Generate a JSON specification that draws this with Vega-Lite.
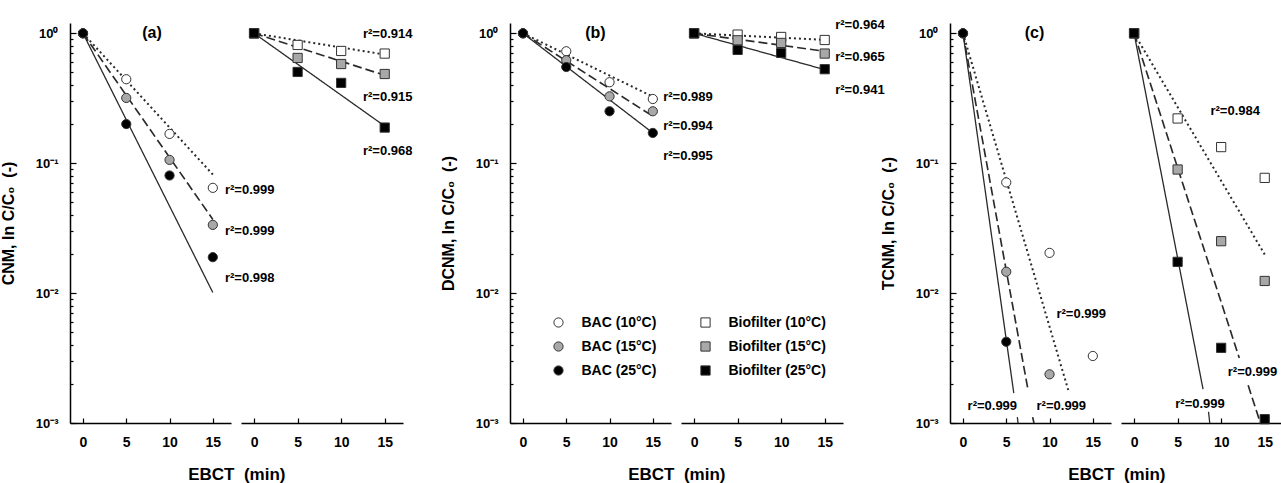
{
"$schema": "https://vega.github.io/schema/vega-lite/v6.json",
"padding": {"left": 0, "top": 19, "right": 0, "bottom": 0},
"spacing": 10,
"bounds": "flush",
"datasets": {
"pts": [
{"p":"a","m":"BAC","s":"BAC (10°C)","t":0,"c":1},{"p":"a","m":"BAC","s":"BAC (10°C)","t":5,"c":0.443},{"p":"a","m":"BAC","s":"BAC (10°C)","t":10,"c":0.168},{"p":"a","m":"BAC","s":"BAC (10°C)","t":15,"c":0.0646},
{"p":"a","m":"BAC","s":"BAC (15°C)","t":0,"c":1},{"p":"a","m":"BAC","s":"BAC (15°C)","t":5,"c":0.318},{"p":"a","m":"BAC","s":"BAC (15°C)","t":10,"c":0.106},{"p":"a","m":"BAC","s":"BAC (15°C)","t":15,"c":0.0335},
{"p":"a","m":"BAC","s":"BAC (25°C)","t":0,"c":1},{"p":"a","m":"BAC","s":"BAC (25°C)","t":5,"c":0.2},{"p":"a","m":"BAC","s":"BAC (25°C)","t":10,"c":0.0804},{"p":"a","m":"BAC","s":"BAC (25°C)","t":15,"c":0.0189},
{"p":"a","m":"Bio","s":"Biofilter (10°C)","t":0,"c":1},{"p":"a","m":"Bio","s":"Biofilter (10°C)","t":5,"c":0.813},{"p":"a","m":"Bio","s":"Biofilter (10°C)","t":10,"c":0.731},{"p":"a","m":"Bio","s":"Biofilter (10°C)","t":15,"c":0.698},
{"p":"a","m":"Bio","s":"Biofilter (15°C)","t":0,"c":1},{"p":"a","m":"Bio","s":"Biofilter (15°C)","t":5,"c":0.646},{"p":"a","m":"Bio","s":"Biofilter (15°C)","t":10,"c":0.58},{"p":"a","m":"Bio","s":"Biofilter (15°C)","t":15,"c":0.486},
{"p":"a","m":"Bio","s":"Biofilter (25°C)","t":0,"c":1},{"p":"a","m":"Bio","s":"Biofilter (25°C)","t":5,"c":0.504},{"p":"a","m":"Bio","s":"Biofilter (25°C)","t":10,"c":0.415},{"p":"a","m":"Bio","s":"Biofilter (25°C)","t":15,"c":0.188},
{"p":"b","m":"BAC","s":"BAC (10°C)","t":0,"c":1},{"p":"b","m":"BAC","s":"BAC (10°C)","t":5,"c":0.727},{"p":"b","m":"BAC","s":"BAC (10°C)","t":10,"c":0.42},{"p":"b","m":"BAC","s":"BAC (10°C)","t":15,"c":0.312},
{"p":"b","m":"BAC","s":"BAC (15°C)","t":0,"c":1},{"p":"b","m":"BAC","s":"BAC (15°C)","t":5,"c":0.62},{"p":"b","m":"BAC","s":"BAC (15°C)","t":10,"c":0.327},{"p":"b","m":"BAC","s":"BAC (15°C)","t":15,"c":0.251},
{"p":"b","m":"BAC","s":"BAC (25°C)","t":0,"c":1},{"p":"b","m":"BAC","s":"BAC (25°C)","t":5,"c":0.55},{"p":"b","m":"BAC","s":"BAC (25°C)","t":10,"c":0.251},{"p":"b","m":"BAC","s":"BAC (25°C)","t":15,"c":0.171},
{"p":"b","m":"Bio","s":"Biofilter (10°C)","t":0,"c":1},{"p":"b","m":"Bio","s":"Biofilter (10°C)","t":5,"c":0.977},{"p":"b","m":"Bio","s":"Biofilter (10°C)","t":10,"c":0.937},{"p":"b","m":"Bio","s":"Biofilter (10°C)","t":15,"c":0.888},
{"p":"b","m":"Bio","s":"Biofilter (15°C)","t":0,"c":1},{"p":"b","m":"Bio","s":"Biofilter (15°C)","t":5,"c":0.883},{"p":"b","m":"Bio","s":"Biofilter (15°C)","t":10,"c":0.843},{"p":"b","m":"Bio","s":"Biofilter (15°C)","t":15,"c":0.698},
{"p":"b","m":"Bio","s":"Biofilter (25°C)","t":0,"c":1},{"p":"b","m":"Bio","s":"Biofilter (25°C)","t":5,"c":0.745},{"p":"b","m":"Bio","s":"Biofilter (25°C)","t":10,"c":0.706},{"p":"b","m":"Bio","s":"Biofilter (25°C)","t":15,"c":0.529},
{"p":"c","m":"BAC","s":"BAC (10°C)","t":0,"c":1},{"p":"c","m":"BAC","s":"BAC (10°C)","t":5,"c":0.0711},{"p":"c","m":"BAC","s":"BAC (10°C)","t":10,"c":0.0204},{"p":"c","m":"BAC","s":"BAC (10°C)","t":15,"c":0.00328},
{"p":"c","m":"BAC","s":"BAC (15°C)","t":0,"c":1},{"p":"c","m":"BAC","s":"BAC (15°C)","t":5,"c":0.0146},{"p":"c","m":"BAC","s":"BAC (15°C)","t":10,"c":0.00237},
{"p":"c","m":"BAC","s":"BAC (25°C)","t":0,"c":1},{"p":"c","m":"BAC","s":"BAC (25°C)","t":5,"c":0.00422},
{"p":"c","m":"Bio","s":"Biofilter (10°C)","t":0,"c":1},{"p":"c","m":"Bio","s":"Biofilter (10°C)","t":5,"c":0.221},{"p":"c","m":"Bio","s":"Biofilter (10°C)","t":10,"c":0.133},{"p":"c","m":"Bio","s":"Biofilter (10°C)","t":15,"c":0.0771},
{"p":"c","m":"Bio","s":"Biofilter (15°C)","t":0,"c":1},{"p":"c","m":"Bio","s":"Biofilter (15°C)","t":5,"c":0.0894},{"p":"c","m":"Bio","s":"Biofilter (15°C)","t":10,"c":0.0251},{"p":"c","m":"Bio","s":"Biofilter (15°C)","t":15,"c":0.0124},
{"p":"c","m":"Bio","s":"Biofilter (25°C)","t":0,"c":1},{"p":"c","m":"Bio","s":"Biofilter (25°C)","t":5,"c":0.0174},{"p":"c","m":"Bio","s":"Biofilter (25°C)","t":10,"c":0.00379},{"p":"c","m":"Bio","s":"Biofilter (25°C)","t":15,"c":0.00107}
],
"fits": [
{"p":"a","m":"BAC","g":"10","d":"dot","t":0,"c":1},{"p":"a","m":"BAC","g":"10","d":"dot","t":15,"c":0.0818},
{"p":"a","m":"BAC","g":"15","d":"dash","t":0,"c":1},{"p":"a","m":"BAC","g":"15","d":"dash","t":15,"c":0.0369},
{"p":"a","m":"BAC","g":"25","d":"solid","t":0,"c":1},{"p":"a","m":"BAC","g":"25","d":"solid","t":15,"c":0.0101},
{"p":"a","m":"Bio","g":"10","d":"dot","t":0,"c":1},{"p":"a","m":"Bio","g":"10","d":"dot","t":15,"c":0.686},
{"p":"a","m":"Bio","g":"15","d":"dash","t":0,"c":1},{"p":"a","m":"Bio","g":"15","d":"dash","t":15,"c":0.475},
{"p":"a","m":"Bio","g":"25","d":"solid","t":0,"c":1},{"p":"a","m":"Bio","g":"25","d":"solid","t":15,"c":0.193},
{"p":"b","m":"BAC","g":"10","d":"dot","t":0,"c":1},{"p":"b","m":"BAC","g":"10","d":"dot","t":15,"c":0.325},
{"p":"b","m":"BAC","g":"15","d":"dash","t":0,"c":1},{"p":"b","m":"BAC","g":"15","d":"dash","t":15,"c":0.23},
{"p":"b","m":"BAC","g":"25","d":"solid","t":0,"c":1},{"p":"b","m":"BAC","g":"25","d":"solid","t":15,"c":0.171},
{"p":"b","m":"Bio","g":"10","d":"dot","t":0,"c":1},{"p":"b","m":"Bio","g":"10","d":"dot","t":15,"c":0.89},
{"p":"b","m":"Bio","g":"15","d":"dash","t":0,"c":1},{"p":"b","m":"Bio","g":"15","d":"dash","t":15,"c":0.727},
{"p":"b","m":"Bio","g":"25","d":"solid","t":0,"c":1},{"p":"b","m":"Bio","g":"25","d":"solid","t":15,"c":0.525},
{"p":"c","m":"BAC","g":"10","d":"dot","t":0,"c":1},{"p":"c","m":"BAC","g":"10","d":"dot","t":12.25,"c":0.00171},
{"p":"c","m":"BAC","g":"15","d":"dash","t":0,"c":1},{"p":"c","m":"BAC","g":"15","d":"dash","t":7.54,"c":0.00176},
{"p":"c","m":"BAC","g":"15b","d":"dash","t":8.05,"c":0.00111},{"p":"c","m":"BAC","g":"15b","d":"dash","t":8.2,"c":0.001},
{"p":"c","m":"BAC","g":"25","d":"solid","t":0,"c":1},{"p":"c","m":"BAC","g":"25","d":"solid","t":5.87,"c":0.0017},
{"p":"c","m":"BAC","g":"25b","d":"solid","t":6.28,"c":0.00111},{"p":"c","m":"BAC","g":"25b","d":"solid","t":6.36,"c":0.001},
{"p":"c","m":"Bio","g":"10","d":"dot","t":0,"c":1},{"p":"c","m":"Bio","g":"10","d":"dot","t":15,"c":0.0198},
{"p":"c","m":"Bio","g":"15","d":"dash","t":0,"c":1},{"p":"c","m":"Bio","g":"15","d":"dash","t":12.08,"c":0.00316},
{"p":"c","m":"Bio","g":"15b","d":"dash","t":13.1,"c":0.00195},{"p":"c","m":"Bio","g":"15b","d":"dash","t":14.5,"c":0.001},
{"p":"c","m":"Bio","g":"25","d":"solid","t":0,"c":1},{"p":"c","m":"Bio","g":"25","d":"solid","t":7.92,"c":0.00182},
{"p":"c","m":"Bio","g":"25b","d":"solid","t":8.55,"c":0.00122},{"p":"c","m":"Bio","g":"25b","d":"solid","t":8.69,"c":0.001}
],
"labels": [
{"p":"a","m":"BAC","t":16.4,"c":0.062,"text":"r²=0.999"},{"p":"a","m":"BAC","t":16.4,"c":0.030,"text":"r²=0.999"},{"p":"a","m":"BAC","t":16.4,"c":0.0131,"text":"r²=0.998"},
{"p":"a","m":"Bio","t":12.5,"c":0.995,"text":"r²=0.914"},{"p":"a","m":"Bio","t":12.5,"c":0.322,"text":"r²=0.915"},{"p":"a","m":"Bio","t":12.5,"c":0.1237,"text":"r²=0.968"},
{"p":"b","m":"BAC","t":16.2,"c":0.322,"text":"r²=0.989"},{"p":"b","m":"BAC","t":16.2,"c":0.195,"text":"r²=0.994"},{"p":"b","m":"BAC","t":16.2,"c":0.1146,"text":"r²=0.995"},
{"p":"b","m":"Bio","t":16.2,"c":1.152,"text":"r²=0.964"},{"p":"b","m":"Bio","t":16.2,"c":0.654,"text":"r²=0.965"},{"p":"b","m":"Bio","t":16.2,"c":0.369,"text":"r²=0.941"},
{"p":"c","m":"BAC","t":0.53,"c":0.00134,"text":"r²=0.999"},{"p":"c","m":"BAC","t":8.5,"c":0.00134,"text":"r²=0.999"},{"p":"c","m":"BAC","t":10.8,"c":0.00686,"text":"r²=0.999"},
{"p":"c","m":"Bio","t":8.77,"c":0.251,"text":"r²=0.984"},{"p":"c","m":"Bio","t":10.76,"c":0.00248,"text":"r²=0.999"},{"p":"c","m":"Bio","t":4.73,"c":0.00141,"text":"r²=0.999"}
],
"titles": [
{"p":"a","t":7.98,"c":1,"text":"(a)"},{"p":"b","t":8.37,"c":1,"text":"(b)"},{"p":"c","t":8.27,"c":1,"text":"(c)"}
]
},
"hconcat": [
{"width":161,"height":400,
 "encoding":{
  "x":{"field":"t","type":"quantitative","scale":{"domain":[-1.5,17.1],"nice":false,"zero":false},"axis":{"values":[0,5,10,15],"tickSize":-5,"labelPadding":17,"labelFontSize":14,"title":"EBCT\u00a0 (min)","titleFontSize":17,"titleX":166.3,"titleY":51.5,"titleBaseline":"middle","titleAlign":"center"}},
  "y":{"field":"c","type":"quantitative","scale":{"type":"log","domain":[0.001,1.2],"nice":false},"axis":{"values":[0.001,0.002,0.003,0.004,0.005,0.006,0.007,0.008,0.009,0.01,0.02,0.03,0.04,0.05,0.06,0.07,0.08,0.09,0.1,0.2,0.3,0.4,0.5,0.6,0.7,0.8,0.9,1],"labelExpr":"datum.value==1?'10⁰':datum.value==0.1?'10⁻¹':datum.value==0.01?'10⁻²':datum.value==0.001?'10⁻³':''","tickSize":{"condition":{"test":"datum.value==1||datum.value==0.1||datum.value==0.01||datum.value==0.001","value":-6},"value":-3},"labelPadding":18,"labelFontSize":13,"title":"CNM, ln C/C₀\u00a0 (-)","titleFontSize":16,"titleX":-62,"titleY":200,"titleBaseline":"middle","titleAlign":"center","titleAngle":-90}}
 },
 "layer":[
  {"data":{"name":"fits"},"transform":[{"filter":"datum.p=='a'&&datum.m=='BAC'"}],"mark":{"type":"line","color":"#2a2a2a"},"encoding":{"detail":{"field":"g"},"strokeDash":{"field":"d","type":"nominal","scale":{"domain":["dot","dash","solid"],"range":[[2,3],[9,4],[1,0]]},"legend":null},"strokeWidth":{"field":"d","type":"nominal","scale":{"domain":["dot","dash","solid"],"range":[2,1.3,1.3]},"legend":null}}},
  {"data":{"name":"pts"},"transform":[{"filter":"datum.p=='a'&&datum.m=='BAC'"}],"mark":{"type":"point","filled":true,"stroke":"#333","strokeWidth":1,"opacity":1,"size":85},"encoding":{"fill":{"field":"s","type":"nominal","scale":{"domain":["BAC (10°C)","Biofilter (10°C)","BAC (15°C)","Biofilter (15°C)","BAC (25°C)","Biofilter (25°C)"],"range":["white","white","#a8a8a8","#a8a8a8","black","black"]},"legend":{"title":null,"encode":{"symbols":{"update":{"stroke":{"value":"#333"},"strokeWidth":{"value":1}}}}}},"shape":{"field":"s","type":"nominal","scale":{"domain":["BAC (10°C)","Biofilter (10°C)","BAC (15°C)","Biofilter (15°C)","BAC (25°C)","Biofilter (25°C)"],"range":["circle","square","circle","square","circle","square"]},"legend":{"title":null,"encode":{"symbols":{"update":{"stroke":{"value":"#333"},"strokeWidth":{"value":1}}}}}}}},
  {"data":{"name":"labels"},"transform":[{"filter":"datum.p=='a'&&datum.m=='BAC'"}],"mark":{"type":"text","align":"left","baseline":"middle","fontSize":13,"fontWeight":"bold","font":"Liberation Sans","color":"black"},"encoding":{"text":{"field":"text"}}},
  {"data":{"name":"titles"},"transform":[{"filter":"datum.p=='a'"}],"mark":{"type":"text","align":"center","baseline":"middle","fontSize":16,"fontWeight":"bold","font":"Liberation Sans","color":"black"},"encoding":{"text":{"field":"text"}}}
 ]},
{"width":162,"height":400,
 "encoding":{
  "x":{"field":"t","type":"quantitative","scale":{"domain":[-1.5,17.1],"nice":false,"zero":false},"axis":{"values":[0,5,10,15],"tickSize":-5,"labelPadding":17,"labelFontSize":14,"title":null}},
  "y":{"field":"c","type":"quantitative","scale":{"type":"log","domain":[0.001,1.2],"nice":false},"axis":null}
 },
 "layer":[
  {"data":{"name":"fits"},"transform":[{"filter":"datum.p=='a'&&datum.m=='Bio'"}],"mark":{"type":"line","color":"#2a2a2a"},"encoding":{"detail":{"field":"g"},"strokeDash":{"field":"d","type":"nominal","scale":{"domain":["dot","dash","solid"],"range":[[2,3],[9,4],[1,0]]},"legend":null},"strokeWidth":{"field":"d","type":"nominal","scale":{"domain":["dot","dash","solid"],"range":[2,1.3,1.3]},"legend":null}}},
  {"data":{"name":"pts"},"transform":[{"filter":"datum.p=='a'&&datum.m=='Bio'"}],"mark":{"type":"point","filled":true,"stroke":"#333","strokeWidth":1,"opacity":1,"size":85},"encoding":{"fill":{"field":"s","type":"nominal","legend":{"title":null}},"shape":{"field":"s","type":"nominal","legend":{"title":null}}}},
  {"data":{"name":"labels"},"transform":[{"filter":"datum.p=='a'&&datum.m=='Bio'"}],"mark":{"type":"text","align":"left","baseline":"middle","fontSize":13,"fontWeight":"bold","font":"Liberation Sans","color":"black"},"encoding":{"text":{"field":"text"}}}
 ]},
{"width":86.3,"height":400,"data":{"values":[{"z":1}]},"mark":{"type":"text","text":""},"encoding":{}},
{"width":161,"height":400,
 "encoding":{
  "x":{"field":"t","type":"quantitative","scale":{"domain":[-1.5,17.1],"nice":false,"zero":false},"axis":{"values":[0,5,10,15],"tickSize":-5,"labelPadding":17,"labelFontSize":14,"title":"EBCT\u00a0 (min)","titleFontSize":17,"titleX":166.3,"titleY":51.5,"titleBaseline":"middle","titleAlign":"center"}},
  "y":{"field":"c","type":"quantitative","scale":{"type":"log","domain":[0.001,1.2],"nice":false},"axis":{"values":[0.001,0.002,0.003,0.004,0.005,0.006,0.007,0.008,0.009,0.01,0.02,0.03,0.04,0.05,0.06,0.07,0.08,0.09,0.1,0.2,0.3,0.4,0.5,0.6,0.7,0.8,0.9,1],"labelExpr":"datum.value==1?'10⁰':datum.value==0.1?'10⁻¹':datum.value==0.01?'10⁻²':datum.value==0.001?'10⁻³':''","tickSize":{"condition":{"test":"datum.value==1||datum.value==0.1||datum.value==0.01||datum.value==0.001","value":-6},"value":-3},"labelPadding":18,"labelFontSize":13,"title":"DCNM, ln C/C₀\u00a0 (-)","titleFontSize":16,"titleX":-62,"titleY":200,"titleBaseline":"middle","titleAlign":"center","titleAngle":-90}}
 },
 "layer":[
  {"data":{"name":"fits"},"transform":[{"filter":"datum.p=='b'&&datum.m=='BAC'"}],"mark":{"type":"line","color":"#2a2a2a"},"encoding":{"detail":{"field":"g"},"strokeDash":{"field":"d","type":"nominal","scale":{"domain":["dot","dash","solid"],"range":[[2,3],[9,4],[1,0]]},"legend":null},"strokeWidth":{"field":"d","type":"nominal","scale":{"domain":["dot","dash","solid"],"range":[2,1.3,1.3]},"legend":null}}},
  {"data":{"name":"pts"},"transform":[{"filter":"datum.p=='b'&&datum.m=='BAC'"}],"mark":{"type":"point","filled":true,"stroke":"#333","strokeWidth":1,"opacity":1,"size":85},"encoding":{"fill":{"field":"s","type":"nominal","legend":{"title":null}},"shape":{"field":"s","type":"nominal","legend":{"title":null}}}},
  {"data":{"name":"labels"},"transform":[{"filter":"datum.p=='b'&&datum.m=='BAC'"}],"mark":{"type":"text","align":"left","baseline":"middle","fontSize":13,"fontWeight":"bold","font":"Liberation Sans","color":"black"},"encoding":{"text":{"field":"text"}}},
  {"data":{"name":"titles"},"transform":[{"filter":"datum.p=='b'"}],"mark":{"type":"text","align":"center","baseline":"middle","fontSize":16,"fontWeight":"bold","font":"Liberation Sans","color":"black"},"encoding":{"text":{"field":"text"}}}
 ]},
{"width":162,"height":400,
 "encoding":{
  "x":{"field":"t","type":"quantitative","scale":{"domain":[-1.5,17.1],"nice":false,"zero":false},"axis":{"values":[0,5,10,15],"tickSize":-5,"labelPadding":17,"labelFontSize":14,"title":null}},
  "y":{"field":"c","type":"quantitative","scale":{"type":"log","domain":[0.001,1.2],"nice":false},"axis":null}
 },
 "layer":[
  {"data":{"name":"fits"},"transform":[{"filter":"datum.p=='b'&&datum.m=='Bio'"}],"mark":{"type":"line","color":"#2a2a2a"},"encoding":{"detail":{"field":"g"},"strokeDash":{"field":"d","type":"nominal","scale":{"domain":["dot","dash","solid"],"range":[[2,3],[9,4],[1,0]]},"legend":null},"strokeWidth":{"field":"d","type":"nominal","scale":{"domain":["dot","dash","solid"],"range":[2,1.3,1.3]},"legend":null}}},
  {"data":{"name":"pts"},"transform":[{"filter":"datum.p=='b'&&datum.m=='Bio'"}],"mark":{"type":"point","filled":true,"stroke":"#333","strokeWidth":1,"opacity":1,"size":85},"encoding":{"fill":{"field":"s","type":"nominal","legend":{"title":null}},"shape":{"field":"s","type":"nominal","legend":{"title":null}}}},
  {"data":{"name":"labels"},"transform":[{"filter":"datum.p=='b'&&datum.m=='Bio'"}],"mark":{"type":"text","align":"left","baseline":"middle","fontSize":13,"fontWeight":"bold","font":"Liberation Sans","color":"black"},"encoding":{"text":{"field":"text"}}}
 ]},
{"width":86.3,"height":400,"data":{"values":[{"z":1}]},"mark":{"type":"text","text":""},"encoding":{}},
{"width":161,"height":400,
 "encoding":{
  "x":{"field":"t","type":"quantitative","scale":{"domain":[-1.5,17.1],"nice":false,"zero":false},"axis":{"values":[0,5,10,15],"tickSize":-5,"labelPadding":17,"labelFontSize":14,"title":"EBCT\u00a0 (min)","titleFontSize":17,"titleX":166.3,"titleY":51.5,"titleBaseline":"middle","titleAlign":"center"}},
  "y":{"field":"c","type":"quantitative","scale":{"type":"log","domain":[0.001,1.2],"nice":false},"axis":{"values":[0.001,0.002,0.003,0.004,0.005,0.006,0.007,0.008,0.009,0.01,0.02,0.03,0.04,0.05,0.06,0.07,0.08,0.09,0.1,0.2,0.3,0.4,0.5,0.6,0.7,0.8,0.9,1],"labelExpr":"datum.value==1?'10⁰':datum.value==0.1?'10⁻¹':datum.value==0.01?'10⁻²':datum.value==0.001?'10⁻³':''","tickSize":{"condition":{"test":"datum.value==1||datum.value==0.1||datum.value==0.01||datum.value==0.001","value":-6},"value":-3},"labelPadding":18,"labelFontSize":13,"title":"TCNM, ln C/C₀\u00a0 (-)","titleFontSize":16,"titleX":-62,"titleY":200,"titleBaseline":"middle","titleAlign":"center","titleAngle":-90}}
 },
 "layer":[
  {"data":{"name":"fits"},"transform":[{"filter":"datum.p=='c'&&datum.m=='BAC'"}],"mark":{"type":"line","color":"#2a2a2a"},"encoding":{"detail":{"field":"g"},"strokeDash":{"field":"d","type":"nominal","scale":{"domain":["dot","dash","solid"],"range":[[2,3],[9,4],[1,0]]},"legend":null},"strokeWidth":{"field":"d","type":"nominal","scale":{"domain":["dot","dash","solid"],"range":[2,1.3,1.3]},"legend":null}}},
  {"data":{"name":"pts"},"transform":[{"filter":"datum.p=='c'&&datum.m=='BAC'"}],"mark":{"type":"point","filled":true,"stroke":"#333","strokeWidth":1,"opacity":1,"size":85},"encoding":{"fill":{"field":"s","type":"nominal","legend":{"title":null}},"shape":{"field":"s","type":"nominal","legend":{"title":null}}}},
  {"data":{"name":"labels"},"transform":[{"filter":"datum.p=='c'&&datum.m=='BAC'"}],"mark":{"type":"text","align":"left","baseline":"middle","fontSize":13,"fontWeight":"bold","font":"Liberation Sans","color":"black"},"encoding":{"text":{"field":"text"}}},
  {"data":{"name":"titles"},"transform":[{"filter":"datum.p=='c'"}],"mark":{"type":"text","align":"center","baseline":"middle","fontSize":16,"fontWeight":"bold","font":"Liberation Sans","color":"black"},"encoding":{"text":{"field":"text"}}}
 ]},
{"width":162,"height":400,
 "encoding":{
  "x":{"field":"t","type":"quantitative","scale":{"domain":[-1.5,17.1],"nice":false,"zero":false},"axis":{"values":[0,5,10,15],"tickSize":-5,"labelPadding":17,"labelFontSize":14,"title":null}},
  "y":{"field":"c","type":"quantitative","scale":{"type":"log","domain":[0.001,1.2],"nice":false},"axis":null}
 },
 "layer":[
  {"data":{"name":"fits"},"transform":[{"filter":"datum.p=='c'&&datum.m=='Bio'"}],"mark":{"type":"line","color":"#2a2a2a"},"encoding":{"detail":{"field":"g"},"strokeDash":{"field":"d","type":"nominal","scale":{"domain":["dot","dash","solid"],"range":[[2,3],[9,4],[1,0]]},"legend":null},"strokeWidth":{"field":"d","type":"nominal","scale":{"domain":["dot","dash","solid"],"range":[2,1.3,1.3]},"legend":null}}},
  {"data":{"name":"pts"},"transform":[{"filter":"datum.p=='c'&&datum.m=='Bio'"}],"mark":{"type":"point","filled":true,"stroke":"#333","strokeWidth":1,"opacity":1,"size":85},"encoding":{"fill":{"field":"s","type":"nominal","legend":{"title":null}},"shape":{"field":"s","type":"nominal","legend":{"title":null}}}},
  {"data":{"name":"labels"},"transform":[{"filter":"datum.p=='c'&&datum.m=='Bio'"}],"mark":{"type":"text","align":"left","baseline":"middle","fontSize":13,"fontWeight":"bold","font":"Liberation Sans","color":"black"},"encoding":{"text":{"field":"text"}}}
 ]}
],
"config": {
 "view": {"stroke": null},
 "font": "Liberation Sans",
 "axis": {"domainColor":"black","domainWidth":1.5,"tickColor":"black","tickWidth":1.2,"labelColor":"black","labelFont":"Liberation Sans","labelFontWeight":"bold","titleFont":"Liberation Sans","titleFontWeight":"bold","titleColor":"black","grid":false,"labelFlush":false,"labelOverlap":false},
 "legend": {"orient":"none","legendX":481.5,"legendY":292.5,"direction":"horizontal","columns":2,"columnPadding":42,"rowPadding":10,"labelFont":"Liberation Sans","labelFontSize":14,"labelFontWeight":"bold","labelColor":"black","labelOffset":16,"symbolSize":85,"symbolStrokeColor":"#333","symbolStrokeWidth":1,"symbolOpacity":1,"padding":0}
}
}
